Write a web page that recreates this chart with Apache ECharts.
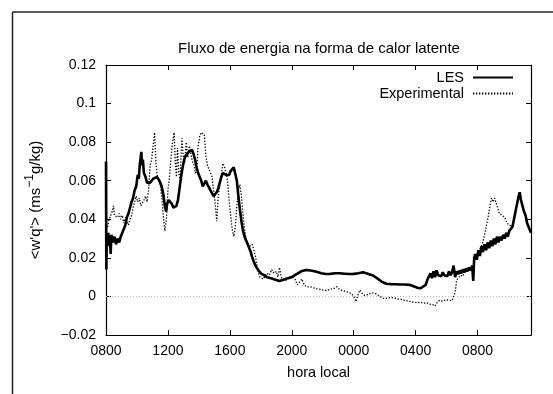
<!DOCTYPE html>
<html>
<head>
<meta charset="utf-8">
<script src="https://cdn.jsdelivr.net/npm/echarts@6/dist/echarts.min.js"></script>
<style>
html,body{margin:0;padding:0;background:#fff;}
#c{width:553px;height:394px;}
</style>
</head>
<body>
<div id="c"></div>
<script>
// ---- data (hours since 00:00 of day 1; 24 = midnight) ----
var xTicks = [8, 12, 16, 20, 24, 28, 32];
var xTickLabels = ['0800', '1200', '1600', '2000', '0000', '0400', '0800'];
var yTicks = [-0.02, 0, 0.02, 0.04, 0.06, 0.08, 0.1, 0.12];

var lesHours = [8.00,8.02,8.05,8.10,8.15,8.20,8.25,8.30,8.35,8.45,8.55,8.65,8.75,8.85,8.95,9.05,9.15,9.25,9.35,9.45,9.55,9.65,9.75,9.85,9.95,10.05,10.12,10.18,10.24,10.28,10.33,10.38,10.45,10.55,10.65,10.75,10.85,10.95,11.05,11.15,11.30,11.45,11.60,11.70,11.80,11.88,11.95,12.05,12.15,12.25,12.35,12.45,12.55,12.65,12.75,12.85,12.95,13.05,13.15,13.25,13.35,13.45,13.55,13.65,13.75,13.85,13.95,14.05,14.15,14.25,14.35,14.45,14.55,14.65,14.75,14.85,14.95,15.05,15.15,15.25,15.35,15.45,15.55,15.65,15.75,15.85,15.95,16.05,16.15,16.25,16.35,16.45,16.55,16.65,16.75,16.85,16.95,17.05,17.15,17.25,17.35,17.45,17.55,17.65,17.80,18.00,18.20,18.40,18.60,18.80,19.00,19.20,19.40,19.60,19.80,20.00,20.20,20.40,20.60,20.80,21.00,21.30,21.60,21.90,22.20,22.50,22.80,23.10,23.40,23.70,24.00,24.30,24.60,24.90,25.20,25.50,25.80,26.10,26.40,26.70,27.00,27.30,27.60,27.90,28.10,28.30,28.50,28.65,28.75,28.85,28.95,29.05,29.15,29.25,29.35,29.45,29.55,29.65,29.75,29.85,29.95,30.05,30.15,30.25,30.35,30.45,30.55,30.65,30.75,30.85,30.95,31.05,31.15,31.25,31.35,31.45,31.55,31.65,31.72,31.78,31.85,31.95,32.05,32.15,32.25,32.35,32.45,32.55,32.65,32.75,32.85,32.95,33.05,33.15,33.25,33.35,33.45,33.55,33.65,33.75,33.85,33.95,34.05,34.15,34.25,34.35,34.45,34.55,34.65,34.72,34.80,34.90,35.00,35.10,35.20,35.30,35.45];
var lesValues = [0.070,0.014,0.030,0.026,0.033,0.028,0.031,0.022,0.032,0.028,0.031,0.027,0.030,0.028,0.031,0.030,0.035,0.037,0.041,0.043,0.046,0.049,0.051,0.055,0.057,0.063,0.061,0.068,0.072,0.075,0.068,0.071,0.064,0.062,0.059,0.058,0.059,0.060,0.061,0.061,0.062,0.060,0.057,0.053,0.047,0.044,0.048,0.050,0.049,0.048,0.046,0.045,0.047,0.050,0.056,0.062,0.067,0.071,0.073,0.074,0.075,0.074,0.076,0.074,0.071,0.067,0.064,0.063,0.060,0.057,0.058,0.060,0.058,0.057,0.055,0.054,0.052,0.052,0.054,0.056,0.059,0.062,0.064,0.064,0.063,0.064,0.063,0.065,0.064,0.067,0.066,0.060,0.052,0.045,0.039,0.034,0.031,0.029,0.027,0.026,0.023,0.020,0.018,0.016,0.014,0.012,0.011,0.010,0.0095,0.009,0.0085,0.008,0.0085,0.009,0.0095,0.010,0.011,0.012,0.013,0.0135,0.0137,0.0133,0.0128,0.012,0.0116,0.0117,0.012,0.012,0.0118,0.0116,0.0117,0.012,0.0125,0.0118,0.011,0.0095,0.0077,0.0066,0.0064,0.0063,0.0062,0.0062,0.006,0.0052,0.0045,0.0042,0.0052,0.006,0.0085,0.0095,0.012,0.0095,0.013,0.010,0.0135,0.011,0.012,0.0105,0.0125,0.011,0.012,0.0105,0.013,0.011,0.0125,0.016,0.010,0.013,0.0115,0.0135,0.012,0.014,0.0125,0.0145,0.013,0.015,0.0135,0.016,0.008,0.020,0.022,0.019,0.024,0.021,0.026,0.023,0.027,0.024,0.028,0.025,0.029,0.026,0.030,0.027,0.031,0.028,0.031,0.029,0.032,0.030,0.033,0.031,0.034,0.033,0.036,0.040,0.044,0.048,0.052,0.054,0.050,0.049,0.044,0.042,0.038,0.036,0.033];

var expHours = [8.10,8.20,8.30,8.40,8.48,8.55,8.65,8.75,8.85,8.95,9.05,9.15,9.25,9.35,9.45,9.55,9.65,9.75,9.85,9.95,10.05,10.15,10.25,10.35,10.45,10.55,10.65,10.75,10.85,10.95,11.05,11.14,11.22,11.30,11.40,11.50,11.60,11.70,11.80,11.90,12.00,12.10,12.20,12.30,12.40,12.48,12.55,12.62,12.70,12.78,12.90,13.00,13.08,13.18,13.28,13.38,13.48,13.58,13.68,13.78,13.88,13.95,14.05,14.15,14.25,14.35,14.45,14.55,14.65,14.75,14.85,14.95,15.05,15.15,15.25,15.35,15.45,15.55,15.65,15.75,15.85,15.95,16.05,16.15,16.25,16.35,16.45,16.55,16.65,16.75,16.85,16.95,17.05,17.15,17.25,17.35,17.45,17.55,17.65,17.75,17.85,17.95,18.05,18.15,18.25,18.40,18.55,18.70,18.85,19.00,19.10,19.20,19.35,19.50,19.70,19.85,20.00,20.20,20.36,20.50,20.65,20.80,20.95,21.20,21.40,21.60,21.83,22.05,22.26,22.50,22.70,22.90,23.10,23.30,23.50,23.70,23.87,24.00,24.15,24.28,24.40,24.55,24.70,24.85,25.00,25.20,25.40,25.60,25.80,26.00,26.20,26.40,26.60,26.80,27.00,27.20,27.40,27.60,27.85,28.10,28.30,28.50,28.70,28.90,29.10,29.25,29.40,29.55,29.75,29.95,30.15,30.35,30.45,30.55,30.65,30.75,30.90,31.05,31.20,31.35,31.50,31.65,31.80,31.95,32.10,32.25,32.40,32.55,32.68,32.80,32.90,33.00,33.10,33.20,33.30,33.40,33.50,33.60,33.75,33.90,34.05,34.20,34.35];
var expValues = [0.036,0.040,0.039,0.044,0.047,0.042,0.043,0.041,0.043,0.040,0.042,0.038,0.041,0.039,0.037,0.040,0.042,0.046,0.049,0.052,0.049,0.051,0.047,0.046,0.050,0.052,0.049,0.055,0.068,0.071,0.070,0.085,0.070,0.063,0.060,0.058,0.052,0.042,0.034,0.040,0.055,0.062,0.072,0.080,0.085,0.068,0.062,0.077,0.064,0.061,0.082,0.072,0.069,0.080,0.072,0.078,0.074,0.070,0.068,0.064,0.068,0.078,0.083,0.085,0.086,0.084,0.073,0.068,0.066,0.067,0.062,0.055,0.048,0.039,0.052,0.058,0.063,0.069,0.067,0.064,0.060,0.050,0.042,0.035,0.031,0.036,0.047,0.055,0.058,0.052,0.042,0.035,0.030,0.028,0.026,0.025,0.027,0.024,0.021,0.016,0.012,0.010,0.0095,0.009,0.010,0.012,0.011,0.014,0.012,0.013,0.010,0.015,0.009,0.0085,0.0085,0.010,0.0105,0.009,0.006,0.0075,0.009,0.006,0.005,0.005,0.0045,0.004,0.0037,0.0032,0.003,0.0038,0.004,0.005,0.0035,0.003,0.0025,0.002,0.0013,0.000,-0.0027,0.001,0.0033,0.0015,0.0005,0.0008,0.0015,0.0018,0.0015,0.0005,-0.0005,-0.0012,-0.0008,-0.0006,-0.0008,-0.0012,-0.0015,-0.0018,-0.0022,-0.0026,-0.003,-0.0032,-0.003,-0.0035,-0.0032,-0.004,-0.0042,-0.005,-0.003,-0.002,-0.0025,-0.0018,-0.002,-0.0022,-0.0025,0.002,0.0085,0.0095,0.011,0.0105,0.013,0.0135,0.015,0.014,0.018,0.021,0.024,0.026,0.030,0.036,0.041,0.047,0.051,0.049,0.051,0.051,0.046,0.043,0.044,0.042,0.041,0.038,0.037,0.036,0.040];

function pairs(xs, ys) { var o = []; for (var i = 0; i < xs.length; i++) o.push([xs[i], ys[i]]); return o; }

var FONT = '"Liberation Sans", Arial, Helvetica, sans-serif';
var chart = echarts.init(document.getElementById('c'), null, {renderer: 'canvas'});

function xFmt(v) {
  for (var i = 0; i < xTicks.length; i++) if (Math.abs(v - xTicks[i]) < 1e-6) return xTickLabels[i];
  return '';
}
function yFmt(v) {
  var r = Math.round(v * 100) / 100;
  if (Math.abs(r) < 1e-9) return '0';
  return r < 0 ? '\u2212' + String(Math.abs(r)) : String(r);
}
var axisCommon = {
  type: 'value',
  axisLine: {show: true, onZero: false, lineStyle: {color: '#000', width: 1.2}},
  axisTick: {show: true, inside: true, length: 5, lineStyle: {color: '#000', width: 1}},
  splitLine: {show: false}
};

chart.setOption({
  animation: false,
  backgroundColor: '#fff',
  title: {
    text: 'Fluxo de energia na forma de calor latente',
    left: 314, top: 36, textAlign: 'center',
    textStyle: {fontFamily: FONT, fontSize: 15, fontWeight: 'normal', color: '#000'}
  },
  legend: {
    orient: 'vertical', right: 34, top: 65, align: 'right',
    itemWidth: 40, itemHeight: 14, itemGap: 1,
    itemStyle: {opacity: 0, borderWidth: 0},
    textStyle: {fontFamily: FONT, fontSize: 14.5, color: '#000', padding: [0, 4, 0, 0]},
    data: ['LES', 'Experimental']
  },
  grid: {left: 106, right: 22, top: 65, bottom: 59, containLabel: false},
  xAxis: [
    Object.assign({}, axisCommon, {
      position: 'bottom', min: 8, max: 35.45, interval: 4,
      axisLabel: {formatter: xFmt, fontFamily: FONT, fontSize: 14, color: '#000', margin: 9, showMaxLabel: false},
      name: 'hora local', nameLocation: 'middle', nameGap: 30,
      nameTextStyle: {fontFamily: FONT, fontSize: 14.5, color: '#000'}
    }),
    Object.assign({}, axisCommon, {
      position: 'top', min: 8, max: 35.45, interval: 4,
      axisLabel: {show: false}
    })
  ],
  yAxis: [
    Object.assign({}, axisCommon, {
      position: 'left', min: -0.02, max: 0.12, interval: 0.02,
      axisLabel: {formatter: yFmt, fontFamily: FONT, fontSize: 14, color: '#000', margin: 10},
      name: '{a|<w\'q\'> (ms}{s|\u22121}{a|g/kg)}', nameLocation: 'middle', nameRotate: 90, nameGap: 63,
      nameTextStyle: {
        fontFamily: FONT, fontSize: 15, color: '#000',
        rich: {
          a: {fontFamily: FONT, fontSize: 15, color: '#000', lineHeight: 19, verticalAlign: 'bottom'},
          s: {fontFamily: FONT, fontSize: 12, color: '#000', lineHeight: 19, verticalAlign: 'top'}
        }
      }
    }),
    Object.assign({}, axisCommon, {
      position: 'right', min: -0.02, max: 0.12, interval: 0.02,
      axisLabel: {show: false}
    })
  ],
  series: [
    {
      name: 'LES', type: 'line', xAxisIndex: 0, yAxisIndex: 0,
      data: pairs(lesHours, lesValues),
      showSymbol: false, symbol: 'none',
      lineStyle: {color: '#000', width: 2.6},
      itemStyle: {color: '#000'},
      z: 3,
      markLine: {
        silent: true, symbol: 'none', label: {show: false},
        lineStyle: {color: '#b8b8b8', width: 1, type: [1, 2]},
        data: [{yAxis: 0}]
      }
    },
    {
      name: 'Experimental', type: 'line', xAxisIndex: 0, yAxisIndex: 0,
      data: pairs(expHours, expValues),
      showSymbol: false, symbol: 'none',
      lineStyle: {color: '#000', width: 1.3, type: [1.3, 1.7]},
      itemStyle: {color: '#000'},
      z: 2
    }
  ],
  graphic: [
    {type: 'line', silent: true, shape: {x1: 12.5, y1: 12, x2: 553, y2: 12}, style: {stroke: '#222', lineWidth: 1.5}},
    {type: 'line', silent: true, shape: {x1: 12.5, y1: 12, x2: 12.5, y2: 394}, style: {stroke: '#222', lineWidth: 1.5}}
  ]
});
</script>
</body>
</html>
